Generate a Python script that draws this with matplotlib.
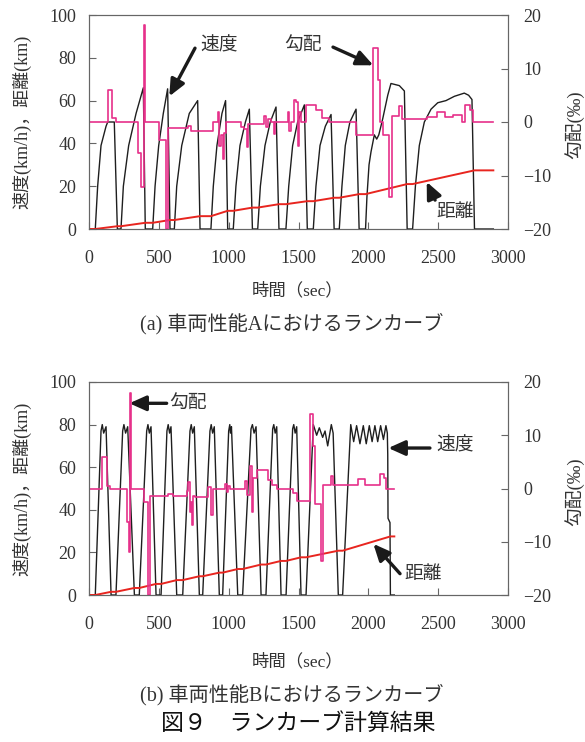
import matplotlib
matplotlib.use("Agg")
import matplotlib.pyplot as plt

plt.rcParams['font.family'] = ['Liberation Serif', 'Noto Sans CJK JP']
plt.rcParams['axes.unicode_minus'] = True

# --- (a) 車両性能A ---
speed_a_t = [0, 45, 62, 86, 122, 134, 181, 203,
             229, 246, 284, 337, 389, 403,
             456, 473, 499, 532, 563, 580,
             611, 628, 664, 718, 778, 795,
             873, 890, 916, 952, 978, 993,
             1033, 1052, 1081, 1120, 1148, 1170,
             1208, 1227, 1260, 1298, 1339, 1360,
             1410, 1430, 1458, 1494, 1542, 1563,
             1606, 1625, 1654, 1692, 1733, 1755,
             1792, 1811, 1835, 1868, 1912, 1934,
             1980, 1990, 2005, 2019, 2043, 2060, 2075, 2103, 2139, 2162, 2222, 2258, 2278,
             2317, 2337, 2365, 2401, 2449, 2497, 2556, 2616, 2687, 2718, 2742, 2760, 2895]
speed_a_v = [0, 0, 20, 39, 48, 50, 50, 0,
             0, 20, 39, 54, 66, 0,
             0, 20, 39, 54, 65.5, 0,
             0, 20, 39, 54, 60, 0,
             0, 20, 39, 54, 60, 0,
             0, 20, 39, 50, 56, 0,
             0, 20, 39, 50, 57, 0,
             0, 20, 39, 50, 58, 0,
             0, 20, 39, 48, 53.5, 0,
             0, 20, 39, 50, 56, 0,
             0, 15, 30, 36, 44, 42, 44, 51.5, 62.5, 68, 67, 64.5, 0,
             0, 20, 39, 50, 56, 59, 60, 62, 63.5, 62.5, 60.5, 0, 0]

grad_a_t = [0, 134, 167, 190, 353, 372, 394, 401, 501, 551, 568, 707, 730, 885, 921,
            933, 945, 957, 965, 981, 1088, 1112, 1129, 1141, 1255, 1267, 1280, 1300,
            1322, 1334, 1423, 1435, 1447, 1470, 1482, 1494, 1506, 1518, 1554, 1625,
            1666, 1721, 1912, 2036, 2071, 2083, 2103, 2150, 2169, 2222, 2241, 2418,
            2489, 2549, 2609, 2668, 2692, 2728, 2752, 2895]
grad_a_g = [0, 6, 0.7, 0, -5.8, -12.1, 18.1, 0, -3.4, -20, -1.2, -0.8, -1.7, 0, 1.9,
            -4.4, -2.5, -6.9, -2, 0, -1, -1.25, -4.7, -0.3, 1.1, -1, 0.6, 0,
            -2.2, 0, 1.9, -1.6, 0, 4.2, 3.7, -4.4, 1.9, 0, 3.2, 2.2,
            0.8, 0, -2.5, 13.9, 7.9, 0, -2.5, -14, 1.2, 3.0, 0.5, 1,
            1.9, 1, 1.4, 0, 3.2, 2.2, 0, 0]

dist_a_t = [0, 45, 203, 229, 403, 456, 580, 611, 795, 873, 993, 1033, 1170, 1208,
            1360, 1410, 1563, 1606, 1755, 1792, 1934, 1980, 2278, 2317, 2760, 2895]
dist_a_km = [0, 0, 1.3, 1.3, 2.9, 2.9, 4.2, 4.2, 6.0, 6.0, 8.5, 8.5, 10.0, 10.0,
             11.6, 11.6, 13.0, 13.0, 14.6, 14.6, 16.3, 16.3, 21.0, 21.0, 27.4, 27.4]

# --- (b) 車両性能B ---
speed_b_t = [0, 45, 86, 95, 105, 122, 158,
             193, 241, 250, 262, 277, 325,
             360, 413, 422, 432, 444, 480,
             516, 558, 567, 577, 587, 628,
             671, 723, 732, 742, 754, 790,
             814, 866, 875, 885, 897, 933,
             957, 1000, 1008, 1013, 1020, 1065,
             1100, 1160, 1170, 1182, 1196, 1232,
             1267, 1315, 1323, 1333, 1344, 1375,
             1411, 1458, 1466, 1476, 1487, 1518,
             1554, 1606, 1630, 1649, 1673, 1690, 1709, 1735, 1748, 1785,
             1816, 1874, 1895, 1916, 1940, 1964, 1985, 2007, 2027, 2047, 2067, 2088,
             2108, 2126, 2136, 2139, 2141, 2155, 2158, 2186]
speed_b_v = [0, 0, 77, 80, 76, 79, 0,
             0, 77, 80, 76, 79, 0,
             0, 77, 80, 76, 79, 0,
             0, 77, 80, 76, 79, 0,
             0, 77, 80, 76, 79, 0,
             0, 77, 80, 76, 79, 0,
             0, 77, 80, 76, 79, 0,
             0, 78, 80, 76, 79, 0,
             0, 78, 80, 76, 79, 0,
             0, 78, 80, 76, 79, 0,
             0, 80, 75, 78.5, 74, 77, 70, 80, 76, 0,
             0, 80, 72, 79.5, 71, 79.5, 71, 79.5, 72, 79.5, 72, 79.5,
             73, 79.5, 76, 66, 36, 34, 0, 0]

grad_b_t = [0, 91, 127, 150, 272, 284, 290, 300, 396, 423, 437, 568, 604, 699, 712,
            722, 730, 737, 745, 759, 850, 873, 890, 974, 985, 995, 1010, 1117, 1130,
            1153, 1165, 1177, 1200, 1280, 1310, 1344, 1458, 1487, 1582, 1601, 1615,
            1661, 1673, 1733, 1750, 1929, 1976, 2084, 2110, 2125, 2186]
grad_b_g = [0, 6, 0.4, 0, -6.2, -12, 18, 0, -2.5, -20, -1.5, -1.1, -1.5, -0.5, 1.2,
            -4.5, -2.5, -6.8, -1.5, -1.6, 0.3, -5, 0, 0.8, -0.6, 0.5, 0, 1.5, -1.2,
            4.3, -4.5, 2, 3.4, 1.6, 0.6, 0, -0.9, -2.3, 14, 8, -3,
            -13.7, 0.6, 2.4, 0.6, 1.8, 0.7, 2.8, 1.9, 0, 0]

dist_b_t = [0, 45, 158, 193, 325, 360, 480, 516, 628, 671, 790, 814, 933, 957,
            1065, 1100, 1232, 1267, 1375, 1411, 1518, 1554, 1785, 1816, 2158, 2186]
dist_b_km = [0, 0, 1.5, 1.5, 3.3, 3.3, 5.2, 5.2, 7.0, 7.0, 8.8, 8.8, 10.5, 10.5,
             12.2, 12.2, 14.3, 14.3, 16.0, 16.0, 17.7, 17.7, 20.8, 20.8, 27.5, 27.5]

x_ticks = [0, 500, 1000, 1500, 2000, 2500, 3000]
left_ticks = [0, 20, 40, 60, 80, 100]
right_ticks = [-20, -10, 0, 10, 20]

FIG_W, FIG_H = 585, 742
fig = plt.figure(figsize=(FIG_W / 100, FIG_H / 100), dpi=100)

spine_c = '#666666'
txt_c = '#333333'
arrow_kw = dict(arrowstyle='-|>,head_length=1.0,head_width=0.45', lw=2.4,
                color='#1a1a1a', shrinkA=0, shrinkB=0)


def make_axes(top_px, bot_px):
    ax = fig.add_axes([89 / FIG_W, 1 - bot_px / FIG_H, 419 / FIG_W, (bot_px - top_px) / FIG_H])
    ax2 = ax.twinx()
    ax.set_xlim(0, 3000)
    ax.set_ylim(0, 100)
    ax2.set_ylim(-20, 20)
    ax.set_xticks(x_ticks)
    ax.set_yticks(left_ticks)
    ax2.set_yticks(right_ticks)
    for a in (ax, ax2):
        for s in a.spines.values():
            s.set_color(spine_c)
            s.set_linewidth(0.8)
        a.tick_params(direction='in', length=5, width=0.8, color=spine_c,
                      labelsize=13, labelcolor=txt_c)
    ax.tick_params(axis='x', pad=15)
    ax.tick_params(axis='y', pad=9)
    ax2.tick_params(axis='y', pad=11)
    return ax, ax2


def draw(ax, ax2, st, sv, gt, gg, dt, dk):
    ax.plot(st, sv, color='#1e1e1e', lw=1.0, zorder=2)
    ax.plot(dt, dk, color='#e8251f', lw=1.4, zorder=3)
    ax2.plot(gt, gg, color='#e6308a', lw=1.2, drawstyle='steps-post', zorder=2)


ax_a, ax2_a = make_axes(15, 229)
draw(ax_a, ax2_a, speed_a_t, speed_a_v, grad_a_t, grad_a_g, dist_a_t, dist_a_km)
ax_b, ax2_b = make_axes(382, 595)
draw(ax_b, ax2_b, speed_b_t, speed_b_v, grad_b_t, grad_b_g, dist_b_t, dist_b_km)

# annotations (a)
ax_a.annotate('', xy=(575, 62), xytext=(759, 84.5), arrowprops=arrow_kw)
ax_a.text(930, 85.5, '速度', fontsize=13.5, color=txt_c, ha='center', va='center')
ax_a.annotate('', xy=(2036, 76.5), xytext=(1747, 85), arrowprops=arrow_kw)
ax_a.text(1530, 86, '勾配', fontsize=13.5, color=txt_c, ha='center', va='center')
ax_a.annotate('', xy=(2418, 22), xytext=(2478, 13.5), arrowprops=arrow_kw)
ax_a.text(2625, 7.5, '距離', fontsize=13.5, color=txt_c, ha='center', va='center')

# annotations (b)
ax_b.annotate('', xy=(289, 90), xytext=(556, 90), arrowprops=arrow_kw)
ax_b.text(712, 90, '勾配', fontsize=13.5, color=txt_c, ha='center', va='center')
ax_b.annotate('', xy=(2143, 69), xytext=(2441, 69), arrowprops=arrow_kw)
ax_b.text(2620, 70, '速度', fontsize=13.5, color=txt_c, ha='center', va='center')
ax_b.annotate('', xy=(2036, 24), xytext=(2227, 10), arrowprops=arrow_kw)
ax_b.text(2395, 9.4, '距離', fontsize=13.5, color=txt_c, ha='center', va='center')


def fy(px):
    return 1 - px / FIG_H


for top, bot, xl_y, sub_y, sub in [(15, 229, 291, 324, '(a) 車両性能Aにおけるランカーブ'),
                                    (382, 595, 662, 695, '(b) 車両性能Bにおけるランカーブ')]:
    mid = (top + bot) / 2
    fig.text(22 / FIG_W, fy(mid), '速度(km/h)，距離(km)', rotation=90, fontsize=13,
             color=txt_c, ha='center', va='center')
    fig.text(574 / FIG_W, fy(mid + 3), '勾配(‰)', rotation=90, fontsize=13.5,
             color=txt_c, ha='center', va='center')
    fig.text(298 / FIG_W, fy(xl_y), '時間（sec）', fontsize=12.5, color=txt_c,
             ha='center', va='center')
    fig.text(292 / FIG_W, fy(sub_y), sub, fontsize=14.5, color=txt_c,
             ha='center', va='center')

fig.text(298 / FIG_W, fy(723), '図９　ランカーブ計算結果', fontsize=16.5, color='#111111',
         family=['Noto Sans CJK JP'], ha='center', va='center')

fig.savefig('out.png', dpi=100)
